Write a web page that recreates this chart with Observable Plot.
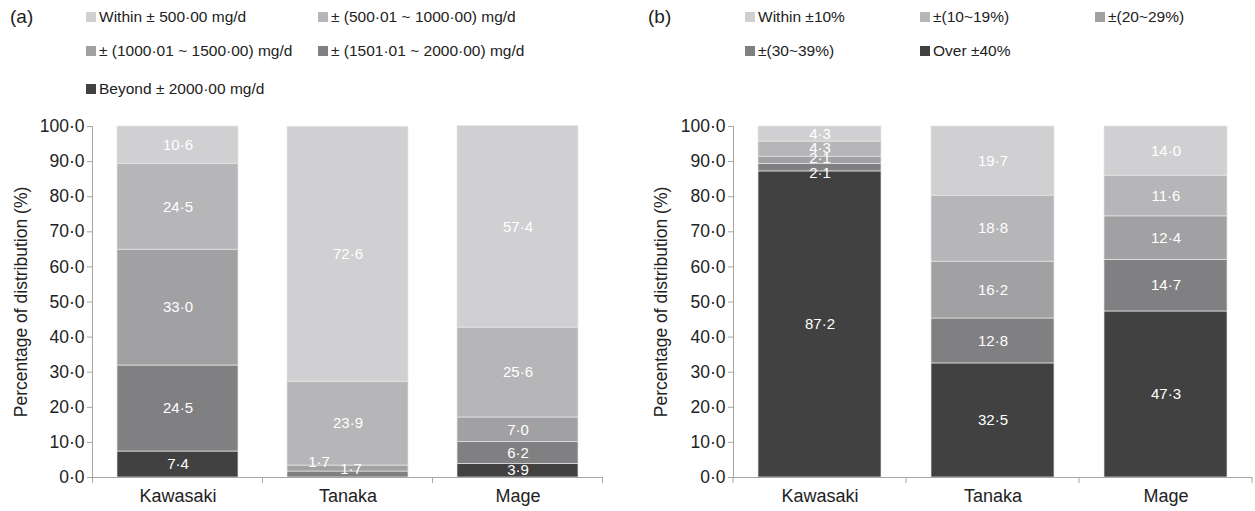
<!DOCTYPE html>
<html>
<head>
<meta charset="utf-8">
<script src="https://cdn.jsdelivr.net/npm/d3@7"></script>
<script src="https://cdn.jsdelivr.net/npm/@observablehq/plot@0.6"></script>
<style>
  html, body { margin: 0; padding: 0; background: #fff; }
  #root { position: relative; width: 1255px; height: 511px; font-family: "Liberation Sans", Arial, sans-serif; color: #222; overflow: hidden; }
  .panel { position: absolute; top: 0; height: 511px; }
  .tag { position: absolute; font-size: 19px; color: #222; }
  .leg { position: absolute; font-size: 15.5px; color: #222; white-space: nowrap; display: flex; align-items: center; }
  .sw { display: inline-block; width: 10px; height: 10px; margin-right: 3px; }
  .chart { position: absolute; left: 0; top: 110px; }
</style>
</head>
<body>
<div id="root">
  <div class="panel" id="pa" style="left:0;width:640px;"></div>
  <div class="panel" id="pb" style="left:640px;width:615px;"></div>
</div>
<script>
// ---------- data ----------
const systems = ["Kawasaki", "Tanaka", "Mage"];

// Panel (a) categories, bottom to top of stack
const catsA = [
  "Beyond ± 2000·00 mg/d",
  "± (1501·01 ~ 2000·00) mg/d",
  "± (1000·01 ~ 1500·00) mg/d",
  "± (500·01 ~ 1000·00) mg/d",
  "Within ± 500·00 mg/d"
];
// values per category (Kawasaki, Tanaka, Mage)
const beyond2000 = [7.4, 0.0, 3.9];
const r1501_2000 = [24.5, 1.7, 6.2];
const r1000_1500 = [33.0, 1.7, 7.0];
const r500_1000  = [24.5, 23.9, 25.6];
const within500  = [10.6, 72.6, 57.4];

// Panel (b) categories, bottom to top of stack
const catsB = ["Over ±40%", "±(30~39%)", "±(20~29%)", "±(10~19%)", "Within ±10%"];
const over40  = [87.2, 32.5, 47.3];
const r30_39  = [2.1, 12.8, 14.7];
const r20_29  = [2.1, 16.2, 12.4];
const r10_19  = [4.3, 18.8, 11.6];
const within10 = [4.3, 19.7, 14.0];

const yTicks = [0, 10, 20, 30, 40, 50, 60, 70, 80, 90, 100];
const greys = ["#414141", "#808082", "#a1a1a3", "#b6b6b8", "#d0d0d2"];

// legend order (as displayed)
const legendA = ["Within ± 500·00 mg/d", "± (500·01 ~ 1000·00) mg/d", "± (1000·01 ~ 1500·00) mg/d", "± (1501·01 ~ 2000·00) mg/d", "Beyond ± 2000·00 mg/d"];
const legendB = ["Within ±10%", "±(10~19%)", "±(20~29%)", "±(30~39%)", "Over ±40%"];

// ---------- helpers ----------
const fmt = v => v.toFixed(1).replace(".", "·");

function buildRows(cats, series) {
  const rows = [];
  cats.forEach((c, ci) => systems.forEach((s, si) => rows.push({sys: s, cat: c, value: series[ci][si]})));
  return rows;
}

function bandTicks(index, scales) {
  const x = scales.x, y = scales.y;
  const dom = x.domain();
  const bw = x.bandwidth();
  const step = dom.length > 1 ? x(dom[1]) - x(dom[0]) : bw;
  const gap = (step - bw) / 2;
  const y0 = y(0);
  const ns = "http://www.w3.org/2000/svg";
  const g = document.createElementNS(ns, "g");
  const xs = [x(dom[0]) - gap, ...dom.map(d => x(d) + bw + gap)];
  xs.forEach(px => {
    const l = document.createElementNS(ns, "line");
    l.setAttribute("x1", px); l.setAttribute("x2", px);
    l.setAttribute("y1", y0); l.setAttribute("y2", y0 + 6);
    l.setAttribute("stroke", "#a6a6a6");
    g.appendChild(l);
  });
  return g;
}

function panel(el, {rows, cats, width, marginLeft, marginRight, special}) {
  const isSpecial = d => special.some(s => s.sys === d.sys && s.cat === d.cat);
  const marks = [
    Plot.barY(rows, {x: "sys", y: "value", fill: "cat", stroke: "#e6e6e6", strokeWidth: 0.7}),
    Plot.text(rows, Plot.stackY({x: "sys", y: "value",
      text: d => (d.value > 0 && !isSpecial(d)) ? fmt(d.value) : "",
      fill: "white", fontSize: 15})),
    ...special.map(s => Plot.text(rows, Plot.stackY({x: "sys", y: "value",
      text: d => (d.sys === s.sys && d.cat === s.cat) ? fmt(d.value) : "",
      fill: "white", fontSize: 15, dx: s.dx, dy: s.dy}))),
    Plot.ruleY([0], {stroke: "#a6a6a6"}),
    bandTicks,
    Plot.axisY({ticks: yTicks, tickFormat: fmt, tickSize: 5, tickPadding: 3, stroke: "#a6a6a6",
      fontSize: 17.5, label: "Percentage of distribution (%)", labelAnchor: "center", labelArrow: "none",
      labelOffset: marginLeft - 14, color: "#222"}),
    Plot.frame({anchor: "left", stroke: "#a6a6a6"}),
    Plot.axisX({tickSize: 0, tickPadding: 12, fontSize: 18, label: null, color: "#222"})
  ];
  const chart = Plot.plot({
    width, height: 401,
    marginTop: 16, marginBottom: 34, marginLeft, marginRight,
    style: {fontFamily: "'Liberation Sans', Arial, sans-serif", color: "#222", background: "transparent"},
    x: {domain: systems, paddingInner: 0.29, paddingOuter: 0.145, axis: null},
    y: {domain: [0, 100], axis: null},
    color: {domain: cats, range: greys},
    marks
  });
  chart.classList.add("chart");
  el.appendChild(chart);
}

function legend(el, items, positions, tag) {
  const t = document.createElement("div");
  t.className = "tag"; t.textContent = tag;
  t.style.left = positions.tag[0] + "px"; t.style.top = positions.tag[1] + "px";
  el.appendChild(t);
  items.forEach((name, i) => {
    const d = document.createElement("div");
    d.className = "leg";
    d.style.left = positions.items[i][0] + "px";
    d.style.top = positions.items[i][1] + "px";
    const sw = document.createElement("span");
    sw.className = "sw";
    const ci = (tag === "(a)" ? catsA : catsB).indexOf(name);
    sw.style.background = greys[ci];
    d.appendChild(sw);
    d.appendChild(document.createTextNode(name));
    el.appendChild(d);
  });
}

// ---------- panel (a) ----------
const rowsA = buildRows(catsA, [beyond2000, r1501_2000, r1000_1500, r500_1000, within500]);
panel(document.getElementById("pa"), {
  rows: rowsA, cats: catsA, width: 640, marginLeft: 92, marginRight: 37,
  special: [
    {sys: "Tanaka", cat: catsA[2], dx: -29, dy: -6},
    {sys: "Tanaka", cat: catsA[1], dx: 3, dy: -5}
  ]
});
legend(document.getElementById("pa"), legendA, {
  tag: [10, 6],
  items: [[86, 8], [318, 8], [86, 42], [318, 42], [86, 80]]
}, "(a)");

// ---------- panel (b) ----------
const rowsB = buildRows(catsB, [over40, r30_39, r20_29, r10_19, within10]);
panel(document.getElementById("pb"), {
  rows: rowsB, cats: catsB, width: 615, marginLeft: 93, marginRight: 3,
  special: [
    {sys: "Kawasaki", cat: catsB[1], dx: 0, dy: 5},
    {sys: "Kawasaki", cat: catsB[2], dx: 0, dy: -2},
    {sys: "Kawasaki", cat: catsB[3], dx: 0, dy: -1}
  ]
});
legend(document.getElementById("pb"), legendB, {
  tag: [8, 6],
  items: [[105, 8], [280, 8], [455, 8], [105, 42], [280, 42]]
}, "(b)");
</script>
</body>
</html>
